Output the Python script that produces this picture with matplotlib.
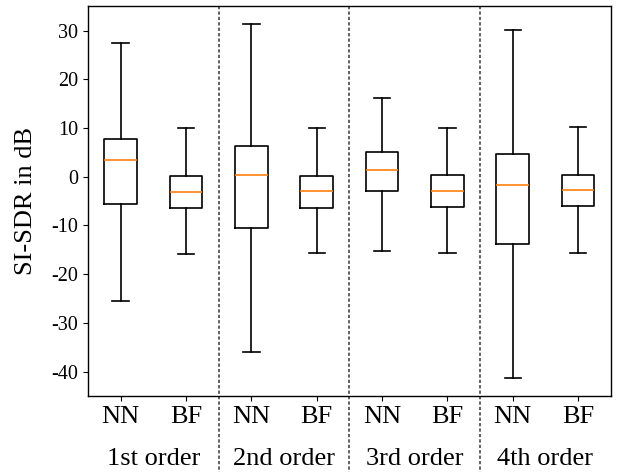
import matplotlib
matplotlib.use("Agg")
import matplotlib.pyplot as plt
import matplotlib.transforms as mtransforms

plt.rcParams['font.family'] = ['Liberation Serif', 'DejaVu Serif']
plt.rcParams['axes.unicode_minus'] = False
plt.rcParams['axes.linewidth'] = 1.0

# box statistics (SI-SDR in dB)
labels = ['NN', 'BF', 'NN', 'BF', 'NN', 'BF', 'NN', 'BF']
groups = ['1st order', '2nd order', '3rd order', '4th order']
whislo = [-25.5, -15.8, -35.9, -15.7, -15.2, -15.7, -41.3, -15.6]
q1 = [-5.5, -6.4, -10.6, -6.4, -3.0, -6.2, -13.9, -6.1]
med = [3.4, -3.1, 0.4, -3.0, 1.3, -2.9, -1.8, -2.8]
q3 = [7.7, 0.1, 6.3, 0.2, 5.1, 0.3, 4.6, 0.4]
whishi = [27.4, 9.9, 31.4, 9.9, 16.1, 10.0, 30.1, 10.1]

stats = []
for i in range(len(labels)):
    stats.append({'label': labels[i], 'whislo': whislo[i], 'q1': q1[i], 'med': med[i],
                  'q3': q3[i], 'whishi': whishi[i], 'fliers': []})

fig, ax = plt.subplots(figsize=(6.17, 4.72), dpi=100)
fig.subplots_adjust(left=0.1426, right=0.990, top=0.987, bottom=0.161)

positions = list(range(1, len(labels) + 1))
line = {'color': 'black', 'linewidth': 1.2}
ax.bxp(stats, positions=positions, widths=0.5, showfliers=False,
       boxprops=line, whiskerprops=line, capprops=line,
       medianprops={'color': '#ff7f0e', 'linewidth': 1.2})

ax.set_xlim(0.5, len(labels) + 0.5)
ax.set_ylim(-45, 35)
ax.set_yticks(range(-40, 31, 10))
ax.tick_params(axis='y', labelsize=14.5)
ax.tick_params(axis='x', labelsize=19)
ax.set_xticks(positions)
ax.set_xticklabels(labels)
ax.set_ylabel('SI-SDR in dB', fontsize=19, labelpad=10)

# group separators and group labels under the ticks
trans = mtransforms.blended_transform_factory(ax.transData, ax.transAxes)
for k in range(1, len(groups)):
    xs = 2 * k + 0.5
    ax.plot([xs, xs], [1.0, -0.2], transform=trans, color='#555555', lw=1.3,
            dashes=(1.8, 1.2), clip_on=False)
for k, g in enumerate(groups):
    ax.text(2 * k + 1.5, -0.162, g, transform=trans, ha='center', va='center', fontsize=19)

fig.savefig('out.png', dpi=100)
